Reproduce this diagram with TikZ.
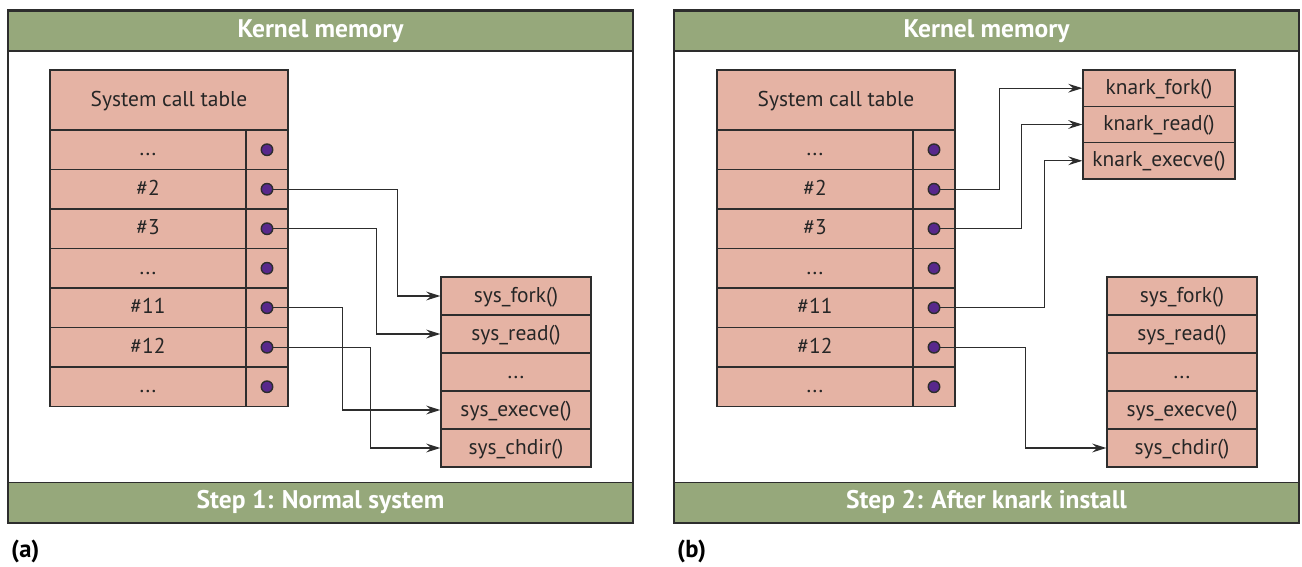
\documentclass[tikz,border=0pt]{standalone}
\usepackage{fontspec}
\setmainfont{PT Sans}
\usetikzlibrary{arrows.meta}
\definecolor{bandgreen}{RGB}{150,168,123}
\definecolor{cellpink}{RGB}{229,179,164}
\definecolor{dotpurple}{RGB}{88,40,140}
\definecolor{edge}{RGB}{45,45,45}
\begin{document}
\begin{tikzpicture}[x=0.02cm, y=-0.02cm,
    panel/.style={draw=edge, line width=0.9pt, fill=white, inner sep=0, minimum width=12.5cm, minimum height=10.26cm},
    band/.style={draw=edge, line width=0.9pt, fill=bandgreen, text=white, font=\bfseries\fontsize{14.5}{16}\selectfont, inner sep=0, text height=0.7em, text depth=0pt, minimum width=12.5cm, minimum height=0.8cm},
    cell/.style={draw=edge, line width=0.8pt, fill=cellpink, text=black!85, inner sep=0, text height=0.7em, text depth=0pt, font=\fontsize{12.2}{14}\selectfont, minimum height=0.79cm},
    entry/.style={cell, minimum width=3.92cm},
    ptr/.style={cell, minimum width=0.84cm},
    func/.style={cell, minimum width=3cm, minimum height=0.76cm},
    knark/.style={cell, minimum width=3.04cm, minimum height=0.727cm},
    dot/.style={circle, draw=edge, line width=0.8pt, fill=dotpurple, inner sep=0, minimum size=0.23cm},
    link/.style={draw=edge, line width=0.65pt, -{Stealth[length=8pt, width=5pt, inset=2.8pt]}},
    caption/.style={anchor=west, font=\bfseries\fontsize{14}{16}\selectfont}]

    \useasboundingbox (0,0) rectangle (1302,567);

    % (a) normal system
    \node[panel] (fa) at (320.5,266.5) {};
    \node[band] (topa) at (320.5,31) {Kernel memory};
    \node[band] (bota) at (320.5,502.5) {Step 1: Normal system};

    \node[cell, minimum width=4.76cm, minimum height=1.2cm] (taba) at (169,100) {System call table};
    \node[entry] (ar1) at (148,149.75) {...};
    \node[entry] (ar2) at (148,189.25) {\#2};
    \node[entry] (ar3) at (148,228.75) {\#3};
    \node[entry] (ar4) at (148,268.25) {...};
    \node[entry] (ar5) at (148,307.75) {\#11};
    \node[entry] (ar6) at (148,347.25) {\#12};
    \node[entry] (ar7) at (148,386.75) {...};
    \node[ptr] (ap1) at (267,149.75) {};
    \node[ptr] (ap2) at (267,189.25) {};
    \node[ptr] (ap3) at (267,228.75) {};
    \node[ptr] (ap4) at (267,268.25) {};
    \node[ptr] (ap5) at (267,307.75) {};
    \node[ptr] (ap6) at (267,347.25) {};
    \node[ptr] (ap7) at (267,386.75) {};
    \node[dot] (ad1) at (ap1) {};
    \node[dot] (ad2) at (ap2) {};
    \node[dot] (ad3) at (ap3) {};
    \node[dot] (ad4) at (ap4) {};
    \node[dot] (ad5) at (ap5) {};
    \node[dot] (ad6) at (ap6) {};
    \node[dot] (ad7) at (ap7) {};

    \node[func] (afork) at (516,296) {sys\_fork()};
    \node[func] (aread) at (516,334) {sys\_read()};
    \node[func] (adots) at (516,372) {...};
    \node[func] (aexec) at (516,410) {sys\_execve()};
    \node[func] (achdir) at (516,448) {sys\_chdir()};

    \draw[link] (ad2.east) -- ++(124,0) |- (afork.west);
    \draw[link] (ad3.east) -- ++(103,0) |- (aread.west);
    \draw[link] (ad5.east) -- ++(69,0) |- (aexec.west);
    \draw[link] (ad6.east) -- ++(97,0) |- (achdir.west);

    \node[caption] (capa) at (5,551) {(a)};

    % (b) after knark install
    \node[panel] (fb) at (986.5,266.5) {};
    \node[band] (topb) at (986.5,31) {Kernel memory};
    \node[band] (botb) at (986.5,502.5) {Step 2: After knark install};

    \node[cell, minimum width=4.76cm, minimum height=1.2cm] (tabb) at (836,100) {System call table};
    \node[entry] (br1) at (815,149.75) {...};
    \node[entry] (br2) at (815,189.25) {\#2};
    \node[entry] (br3) at (815,228.75) {\#3};
    \node[entry] (br4) at (815,268.25) {...};
    \node[entry] (br5) at (815,307.75) {\#11};
    \node[entry] (br6) at (815,347.25) {\#12};
    \node[entry] (br7) at (815,386.75) {...};
    \node[ptr] (bp1) at (934,149.75) {};
    \node[ptr] (bp2) at (934,189.25) {};
    \node[ptr] (bp3) at (934,228.75) {};
    \node[ptr] (bp4) at (934,268.25) {};
    \node[ptr] (bp5) at (934,307.75) {};
    \node[ptr] (bp6) at (934,347.25) {};
    \node[ptr] (bp7) at (934,386.75) {};
    \node[dot] (bd1) at (bp1) {};
    \node[dot] (bd2) at (bp2) {};
    \node[dot] (bd3) at (bp3) {};
    \node[dot] (bd4) at (bp4) {};
    \node[dot] (bd5) at (bp5) {};
    \node[dot] (bd6) at (bp6) {};
    \node[dot] (bd7) at (bp7) {};

    \node[knark] (kfork) at (1159,88.2) {knark\_fork()};
    \node[knark] (kread) at (1159,124.5) {knark\_read()};
    \node[knark] (kexec) at (1159,160.8) {knark\_execve()};

    \node[func] (bfork) at (1182,296) {sys\_fork()};
    \node[func] (bread) at (1182,334) {sys\_read()};
    \node[func] (bdots) at (1182,372) {...};
    \node[func] (bexec) at (1182,410) {sys\_execve()};
    \node[func] (bchdir) at (1182,448) {sys\_chdir()};

    \draw[link] (bd2.east) -- ++(59,0) |- (kfork.west);
    \draw[link] (bd3.east) -- ++(81,0) |- (kread.west);
    \draw[link] (bd5.east) -- ++(104,0) |- (kexec.west);
    \draw[link] (bd6.east) -- ++(85,0) |- (bchdir.west);

    \node[caption] (capb) at (671,551) {(b)};

\end{tikzpicture}
\end{document}
